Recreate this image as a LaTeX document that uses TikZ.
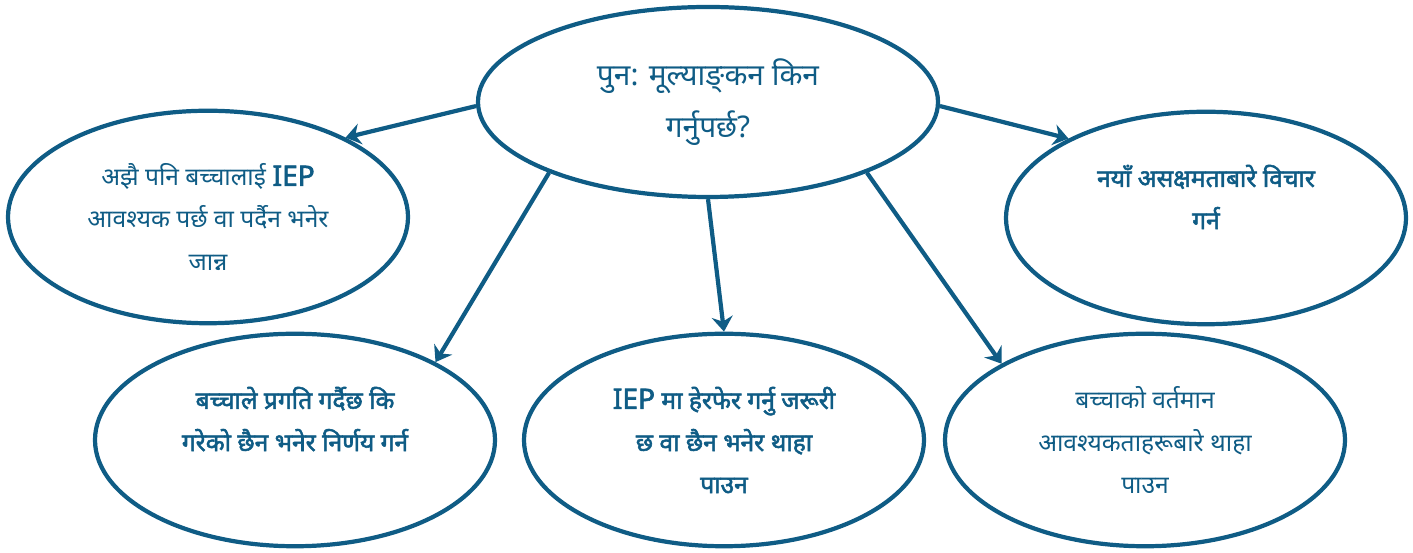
\documentclass[tikz,border=0pt]{standalone}
\usepackage{fontspec}
\setmainfont{Noto Sans}[Script=Devanagari, AutoFakeBold=2.2]
\usetikzlibrary{arrows.meta, positioning, shapes.geometric}
\definecolor{navy}{HTML}{0F5C85}

\begin{document}
\begin{tikzpicture}[
    bubble/.style={draw=navy, line width=2.4pt, ellipse, inner sep=0pt,
      minimum width=8cm, minimum height=4.25cm, align=center,
      text=navy, font=\fontsize{14}{24}\selectfont},
    link/.style={draw=navy, line width=2.4pt,
      -{Stealth[length=0.3cm, width=0.42cm, inset=0.1cm]}}
  ]
  \useasboundingbox (0,0) rectangle (28.26,11.06);
  % centre question
  \node[bubble, minimum width=9.2cm, minimum height=3.8cm,
        font=\fontsize{17}{30}\selectfont] (why) at (14.16,9.02)
    {पुन:  मूल्याङ्^^^^200cकन  किन\\ गर्नुपर्छ?};
  % reasons
  \node[bubble] (know) at (4.16,6.72)
    {अझै पनि बच्चालाई \textbf{\fontsize{16}{24}\selectfont IEP}\\ आवश्यक पर्छ वा पर्दैन भनेर\\ जान्न};
  \node[bubble, font=\fontsize{14}{24}\selectfont\bfseries] (new) at (24.12,6.70)
    {नयाँ असक्षमताबारे विचार\\ गर्न\\ };
  \node[bubble, font=\fontsize{14}{24}\selectfont\bfseries] (prog) at (5.90,2.26)
    {बच्चाले प्रगति गर्दैछ कि\\ गरेको छैन भनेर निर्णय गर्न\\ };
  \node[bubble, font=\fontsize{14}{24}\selectfont\bfseries] (edit) at (14.48,2.26)
    {{\fontsize{16}{24}\selectfont IEP} मा हेरफेर गर्नु जरूरी\\ छ वा छैन भनेर थाहा\\ पाउन};
  \node[bubble] (needs) at (22.90,2.26)
    {बच्चाको वर्तमान\\ आवश्यकताहरूबारे थाहा\\ पाउन};
  % arrows out of the question
  \draw[link] (why.181) -- (know.30);
  \draw[link] (why.359) -- (new.150);
  \draw[link] (why.204) -- (prog.29);
  \draw[link] (why.south) -- (edit.north);
  \draw[link] (why.336) -- (needs.152);
\end{tikzpicture}
\end{document}
